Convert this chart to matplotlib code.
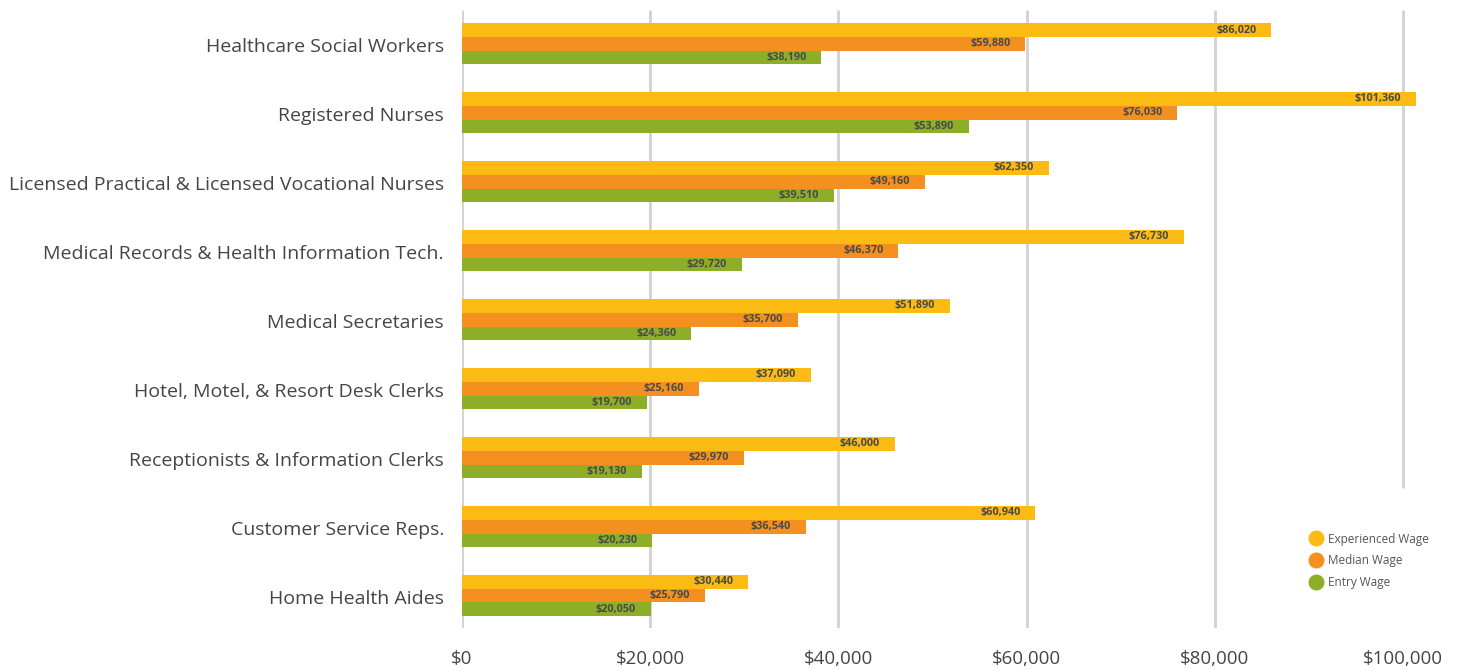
import matplotlib.pyplot as plt
from matplotlib.lines import Line2D

plt.rcParams['font.family'] = ['Open Sans', 'DejaVu Sans']

# occupations, top to bottom
occupations = [
    "Healthcare Social Workers",
    "Registered Nurses",
    "Licensed Practical & Licensed Vocational Nurses",
    "Medical Records & Health Information Tech.",
    "Medical Secretaries",
    "Hotel, Motel, & Resort Desk Clerks",
    "Receptionists & Information Clerks",
    "Customer Service Reps.",
    "Home Health Aides",
]
experienced_wage = [86020, 101360, 62350, 76730, 51890, 37090, 46000, 60940, 30440]
median_wage = [59880, 76030, 49160, 46370, 35700, 25160, 29970, 36540, 25790]
entry_wage = [38190, 53890, 39510, 29720, 24360, 19700, 19130, 20230, 20050]

x_ticks = [0, 20000, 40000, 60000, 80000, 100000]
x_tick_labels = ["$0", "$20,000", "$40,000", "$60,000", "$80,000", "$100,000"]

series = [
    ("Experienced Wage", experienced_wage, "#FBBB12"),
    ("Median Wage", median_wage, "#F4901F"),
    ("Entry Wage", entry_wage, "#8DAE27"),
]

fig = plt.figure(figsize=(14.63, 6.70), dpi=100)
ax = fig.add_axes([462 / 1463, 1 - 628 / 670, 1002 / 1463, 618 / 670])

ax.set_xlim(0, 106500)
ax.set_ylim(8.45, -0.51)

# vertical gridlines (the last one stops above the legend)
for xt in x_ticks:
    top = -0.51
    bottom = 6.42 if xt == 100000 else 8.45
    ax.plot([xt, xt], [top, bottom], color="#d2d2d2", lw=2, zorder=0,
            solid_capstyle="butt")

bar_h = 0.2
offsets = [-0.22, -0.02, 0.18]
for (name, values, color), off in zip(series, offsets):
    ys = [i + off for i in range(len(occupations))]
    ax.barh(ys, values, height=bar_h, color=color, zorder=2, clip_on=False)
    for y, v in zip(ys, values):
        ax.annotate(f"${v:,}", xy=(v, y), xytext=(-15, 0),
                    textcoords="offset pixels", ha="right", va="center",
                    fontsize=7.8, fontweight="bold", color="#4a4a4a", zorder=3)

ax.set_yticks(range(len(occupations)))
ax.set_yticklabels(occupations, fontsize=14, color="#454545")
ax.set_xticks(x_ticks)
ax.set_xticklabels(x_tick_labels, fontsize=13.5, color="#454545")
ax.tick_params(axis="y", length=0, pad=13)
ax.tick_params(axis="x", length=0, pad=16)
for s in ax.spines.values():
    s.set_visible(False)

handles = [Line2D([], [], marker="o", linestyle="none", markersize=10.5,
                  markerfacecolor=c, markeredgecolor=c) for _, _, c in series]
fig.legend(handles, [n for n, _, _ in series], loc="upper left",
           bbox_to_anchor=(1298 / 1463, 1 - 522 / 670), frameon=False,
           fontsize=8.5, labelcolor="#555555", handletextpad=0.4,
           labelspacing=0.75, handlelength=1.2)

fig.savefig("out.png", dpi=100)
